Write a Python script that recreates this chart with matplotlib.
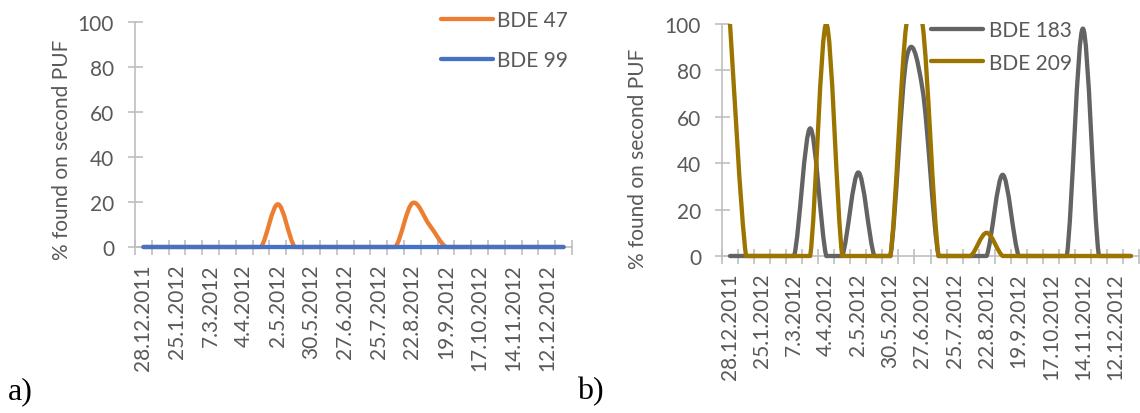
import numpy as np
import matplotlib
matplotlib.use("Agg")
import matplotlib.pyplot as plt
from matplotlib.path import Path
from matplotlib.patches import PathPatch, Rectangle
from matplotlib.lines import Line2D

plt.rcParams["font.family"] = ["Lato", "DejaVu Sans"]

# sampling dates (every second one is labelled on the axis)
dates = ["28.12.2011", "11.1.2012", "25.1.2012", "15.2.2012", "7.3.2012", "21.3.2012",
         "4.4.2012", "18.4.2012", "2.5.2012", "16.5.2012", "30.5.2012", "13.6.2012",
         "27.6.2012", "11.7.2012", "25.7.2012", "8.8.2012", "22.8.2012", "5.9.2012",
         "19.9.2012", "3.10.2012", "17.10.2012", "31.10.2012", "14.11.2012", "28.11.2012",
         "12.12.2012", "26.12.2012"]

bde47 = [0, 0, 0, 0, 0, 0, 0, 0, 19, 0, 0, 0, 0, 0, 0, 0, 19.5, 10, 0, 0, 0, 0, 0, 0, 0, 0]
bde99 = [0] * 26
bde183 = [0, 0, 0, 0, 0, 55, 0, 0, 36, 0, 0, 85, 72, 0, 0, 0, 0, 35, 0, 0, 0, 0, 98, 0, 0, 0]
bde209 = [100, 0, 0, 0, 0, 0, 100, 0, 0, 0, 0, 100, 100, 0, 0, 0, 10, 0, 0, 0, 0, 0, 0, 0, 0, 0]

TXT = "#595959"
AXC = "#BFBFBF"
FS = 15


def smooth_path(y):
    # Excel-like smoothed line: cubic Bezier through the points
    y = np.asarray(y, dtype=float)
    n = len(y)
    x = np.arange(n, dtype=float)
    verts = [(x[0], y[0])]
    codes = [Path.MOVETO]
    for i in range(n - 1):
        a = max(i - 1, 0)
        b = min(i + 2, n - 1)
        c1 = (x[i] + (x[i + 1] - x[a]) / 6, max(y[i] + (y[i + 1] - y[a]) / 6, 0))
        c2 = (x[i + 1] - (x[b] - x[i]) / 6, max(y[i + 1] - (y[b] - y[i]) / 6, 0))
        verts += [c1, c2, (x[i + 1], y[i + 1])]
        codes += [Path.CURVE4] * 3
    return Path(verts, codes)


def draw_series(ax, values, color, label, z):
    patch = PathPatch(smooth_path(values), fill=False, edgecolor=color, lw=3.1,
                      capstyle="round", joinstyle="round", zorder=z)
    ax.add_patch(patch)
    clip = Rectangle((0, -0.05), 1, 1.05, transform=ax.transAxes, visible=False)
    ax.add_patch(clip)
    patch.set_clip_path(clip)
    return Line2D([], [], color=color, lw=3.1, solid_capstyle="round", label=label)


def style_axes(ax):
    ax.set_xlim(-0.5, len(dates) - 0.5)
    ax.set_ylim(0, 100)
    ax.set_yticks(range(0, 101, 20))
    ax.set_xticks(range(0, len(dates), 2))
    ax.set_xticklabels(dates[::2], rotation=90)
    ax.set_xticks(np.arange(-0.5, len(dates), 1), minor=True)
    ax.tick_params(axis="x", which="major", length=0, pad=12, labelsize=FS, labelcolor=TXT)
    ax.tick_params(axis="x", which="minor", direction="inout", length=10.8, width=1.2, color=AXC)
    ax.tick_params(axis="y", direction="inout", length=10.8, width=1.2, color=AXC,
                   pad=9.7, labelsize=FS, labelcolor=TXT)
    for s in ["top", "right"]:
        ax.spines[s].set_visible(False)
    for s in ["left", "bottom"]:
        ax.spines[s].set_color(AXC)
        ax.spines[s].set_linewidth(1.2)


W, H = 1140, 414
fig = plt.figure(figsize=(W / 100, H / 100), dpi=100)

ax1 = fig.add_axes([135 / W, 1 - 248 / H, (572 - 135) / W, 225 / H])
ax2 = fig.add_axes([722 / W, 1 - 257 / H, (1139 - 722) / W, 232 / H])

h1 = [draw_series(ax1, bde47, "#ED7D31", "BDE 47", 3),
      draw_series(ax1, bde99, "#4472C4", "BDE 99", 3.1)]
h2 = [draw_series(ax2, bde183, "#636363", "BDE 183", 3),
      draw_series(ax2, bde209, "#9C7500", "BDE 209", 3.1)]

for ax in (ax1, ax2):
    style_axes(ax)

fig.legend(handles=h1, loc="upper left", bbox_to_anchor=(441 / W, 1 - 11 / H),
           frameon=False, fontsize=FS, labelcolor=TXT, handlelength=2.5,
           handletextpad=0.2, labelspacing=0.95, borderpad=0, borderaxespad=0)
fig.legend(handles=h2, loc="upper left", bbox_to_anchor=(931 / W, 1 - 21 / H),
           frameon=False, fontsize=FS, labelcolor=TXT, handlelength=2.5,
           handletextpad=0.3, labelspacing=0.6, borderpad=0, borderaxespad=0)

fig.text(62 / W, 1 - 150 / H, "% found on second PUF", rotation=90, ha="center",
         va="center", fontsize=FS, color=TXT)
fig.text(638 / W, 1 - 159 / H, "% found on second PUF", rotation=90, ha="center",
         va="center", fontsize=FS, color=TXT)

fig.text(8 / W, 1 - 392 / H, "a)", fontsize=23, family="Liberation Serif", va="center")
fig.text(577 / W, 1 - 392 / H, "b)", fontsize=23, family="Liberation Serif", va="center")

fig.savefig("out.png", dpi=100)
